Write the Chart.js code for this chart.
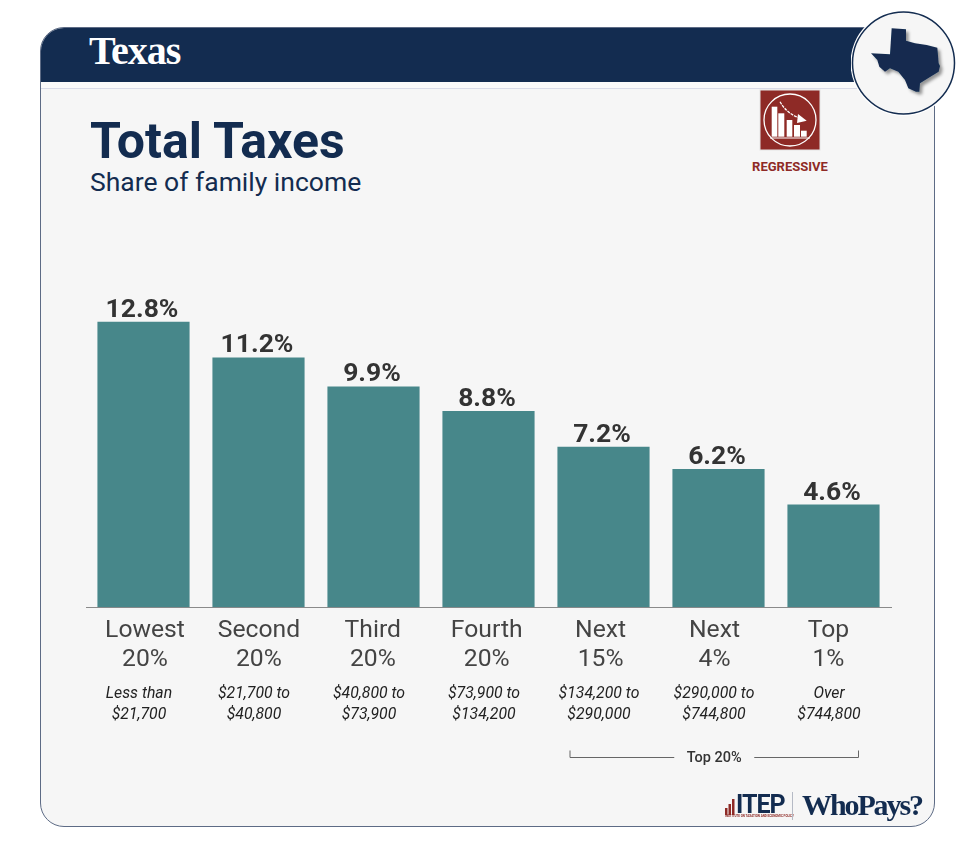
<!DOCTYPE html>
<html>
<head>
<meta charset="utf-8">
<title>Texas - Total Taxes</title>
<script src="https://cdn.jsdelivr.net/npm/chart.js@4"></script>
<style>
  html, body { margin: 0; padding: 0; background: #fff; }
  #page { position: relative; width: 975px; height: 858px; overflow: hidden; font-family: Roboto, sans-serif; }
  #frame { position: absolute; left: 40px; top: 27px; width: 893px; height: 798px; box-sizing: content-box;
    border: 1px solid #5d6b85; border-radius: 24px; background: #f6f6f6; overflow: hidden; }
  #head { position: absolute; left: 0; top: 0; width: 100%; height: 54px; background: #132c50; }
  #gap { position: absolute; left: 0; top: 54px; width: 100%; height: 6px; background: #fafafa; border-bottom: 1px solid #d9dbe8; }
  #state { position: absolute; left: 89px; top: 27px; color: #fff; font: bold 40px/48px "Liberation Serif", serif; letter-spacing: -1px; }
  #title { position: absolute; left: 90px; top: 111px; color: #132c50; font: bold 50px/60px Roboto, sans-serif; }
  #sub { position: absolute; left: 90px; top: 165px; color: #132c50; font: 26.5px/34px Roboto, sans-serif; }
  #badge { position: absolute; left: 851px; top: 11px; }
  #icon { position: absolute; left: 757px; top: 87px; }
  #reg { position: absolute; left: 730px; top: 158px; width: 120px; text-align: center; color: #8e2a26; font: bold 13px/18px Roboto, sans-serif; }
  #chart { position: absolute; left: 0; top: 0; }
  #itep { position: absolute; left: 736px; top: 790px; color: #132c50; font: bold 25px/30px Roboto, sans-serif; letter-spacing: -1px; }
  #itepsmall { position: absolute; left: 725px; top: 814px; color: #8e2a26; font: bold 3px/5px Roboto, sans-serif; white-space: nowrap; }
  #rule { position: absolute; left: 792px; top: 792px; width: 1px; height: 28px; background: #b5bac5; }
  #who { position: absolute; left: 802px; top: 787px; color: #132c50; font: bold 30px/36px "Liberation Serif", serif; letter-spacing: -2.1px; }
</style>
</head>
<body>
<div id="page">
  <div id="frame">
    <div id="head"></div>
    <div id="gap"></div>
  </div>
  <div id="state">Texas</div>
  <div id="title">Total Taxes</div>
  <div id="sub">Share of family income</div>

  <svg id="badge" width="110" height="110" viewBox="0 0 110 110">
    <defs>
      <filter id="sh" x="-20%" y="-20%" width="150%" height="150%">
        <feDropShadow dx="8" dy="8" stdDeviation="5" flood-color="#000" flood-opacity="0.4"/>
      </filter>
    </defs>
    <circle cx="52.5" cy="52" r="53" fill="#fff"/>
    <circle cx="52.5" cy="52" r="51" fill="#f6f6f6" stroke="#132c50" stroke-width="1.5"/>
    <path transform="translate(-11 -11) scale(0.3333)" filter="url(#sh)" fill="#132c50"
      d="M155 85 L198 88 L198 122 L225 130 L260 135 L292 143 L296 190 L300 198 L296 215 L275 228 L240 250 L238 275 L228 275 L205 265 L195 240 L175 215 L150 205 L135 215 L118 200 L112 180 L93 160 L150 163 Z"/>
  </svg>

  <svg id="icon" width="66" height="66" viewBox="0 0 66 66">
    <rect x="3" y="3" width="60" height="60" fill="#8e2a26" stroke="#e3e3e3" stroke-width="1"/>
    <circle cx="33" cy="33" r="26" fill="none" stroke="#fff" stroke-width="1.3"/>
    <rect x="14.700" y="19.700" width="5.600" height="30" fill="#fff"/>
    <rect x="21.300" y="26.300" width="6" height="23.400" fill="#fff"/>
    <rect x="29.700" y="33" width="5.600" height="16.700" fill="#fff"/>
    <rect x="37" y="38" width="6" height="11.700" fill="#fff"/>
    <rect x="44" y="43.700" width="5.700" height="6" fill="#fff"/>
    <line x1="13" y1="51" x2="53" y2="51" stroke="#fff" stroke-width="1"/>
    <path d="M23 14.700 Q30 27 43 31" fill="none" stroke="#fff" stroke-width="1.3" stroke-dasharray="3 1"/>
    <path d="M41 27 L49.700 33.700 L40 36 Z" fill="#fff"/>
  </svg>
  <div id="reg">REGRESSIVE</div>

  <canvas id="chart" width="975" height="858"></canvas>

  <svg style="position:absolute;left:725px;top:797px" width="12" height="20">
    <rect x="0" y="11" width="2.500" height="7" fill="#8e2a26"/>
    <rect x="3.500" y="7" width="2.500" height="11" fill="#8e2a26"/>
    <rect x="7" y="2" width="2.500" height="16" fill="#8e2a26"/>
  </svg>
  <div id="itep">ITEP</div>
  <div id="itepsmall">INSTITUTE ON TAXATION AND ECONOMIC POLICY</div>
  <div id="rule"></div>
  <div id="who">WhoPays?</div>
</div>

<script>
var groupLabels = [["Lowest","20%"],["Second","20%"],["Third","20%"],["Fourth","20%"],["Next","15%"],["Next","4%"],["Top","1%"]];
var incomeLabels = [["Less than","$21,700"],["$21,700 to","$40,800"],["$40,800 to","$73,900"],["$73,900 to","$134,200"],["$134,200 to","$290,000"],["$290,000 to","$744,800"],["Over","$744,800"]];
var taxShares = [12.8, 11.2, 9.9, 8.8, 7.2, 6.2, 4.6];
var bracketFrom = 4;
var bracketTo = 6;
var bracketLabel = "Top 20%";

// value labels on top of the bars, and the Top 20% bracket under the axis
var barLabels = {
    id: 'barLabels',
    afterDatasetsDraw: function(chart){
        var ctx = chart.ctx;
        var meta = chart.getDatasetMeta(0);
        ctx.save();
        ctx.font = "bold 26.5px Roboto";
        ctx.fillStyle = "#333333";
        ctx.textAlign = "center";
        ctx.textBaseline = "alphabetic";
        for (var i = 0; i < taxShares.length; i++) {
            ctx.fillText(taxShares[i].toFixed(1)+"%", meta.data[i].x-1.5, meta.data[i].y-5);
        }

        var x = chart.scales.x;
        var x1 = x.getPixelForValue(bracketFrom)-33.5;
        var x2 = x.getPixelForValue(bracketTo)+25;
        var mid = (x1+x2)/2;
        var y = 757.5;
        ctx.strokeStyle = "#666666";
        ctx.lineWidth = 1;
        ctx.beginPath();
        ctx.moveTo(x1, y-7); ctx.lineTo(x1, y); ctx.lineTo(mid-40, y);
        ctx.moveTo(mid+40, y); ctx.lineTo(x2, y); ctx.lineTo(x2, y-7);
        ctx.stroke();
        ctx.font = "500 14.5px Roboto";
        ctx.fillStyle = "#333333";
        ctx.textBaseline = "middle";
        ctx.fillText(bracketLabel, mid, y+0.5);
        ctx.restore();
    }
};

// the group labels sit on a slightly tighter pitch than the bars
var tightenTicks = function(scale){
    var tickPixel = scale.getPixelForTick;
    scale.getPixelForTick = function(i){
        return tickPixel.call(this, i) + 1.5 - i*1.1;
    };
};

new Chart(document.getElementById("chart"), {
    type: 'bar',
    data: {
        labels: groupLabels,
        datasets: [{
            data: taxShares,
            backgroundColor: "#47878a",
            barPercentage: 0.809,
            categoryPercentage: 1
        }]
    },
    options: {
        responsive: false,
        animation: false,
        devicePixelRatio: 1,
        layout: { padding: { left: 86, right: 84, top: 295, bottom: 131 } },
        plugins: { legend: { display: false }, tooltip: { enabled: false } },
        scales: {
            y: { display: false, min: 0, max: 14 },
            x: {
                afterBuildTicks: tightenTicks,
                grid: { display: false, drawTicks: false },
                border: { display: true, color: "#8a8a8a", width: 1 },
                ticks: {
                    color: "#444444",
                    font: { family: "Roboto", size: 24.7, lineHeight: 1.17 },
                    padding: 9,
                    maxRotation: 0,
                    autoSkip: false
                }
            },
            x2: {
                type: 'category',
                position: 'bottom',
                labels: incomeLabels,
                grid: { display: false, drawTicks: false },
                border: { display: false },
                ticks: {
                    color: "#222222",
                    font: { family: "Roboto", size: 15.8, style: "italic", lineHeight: 1.33 },
                    padding: 1,
                    labelOffset: -4.5,
                    maxRotation: 0,
                    autoSkip: false
                }
            }
        }
    },
    plugins: [barLabels]
});
</script>
</body>
</html>
